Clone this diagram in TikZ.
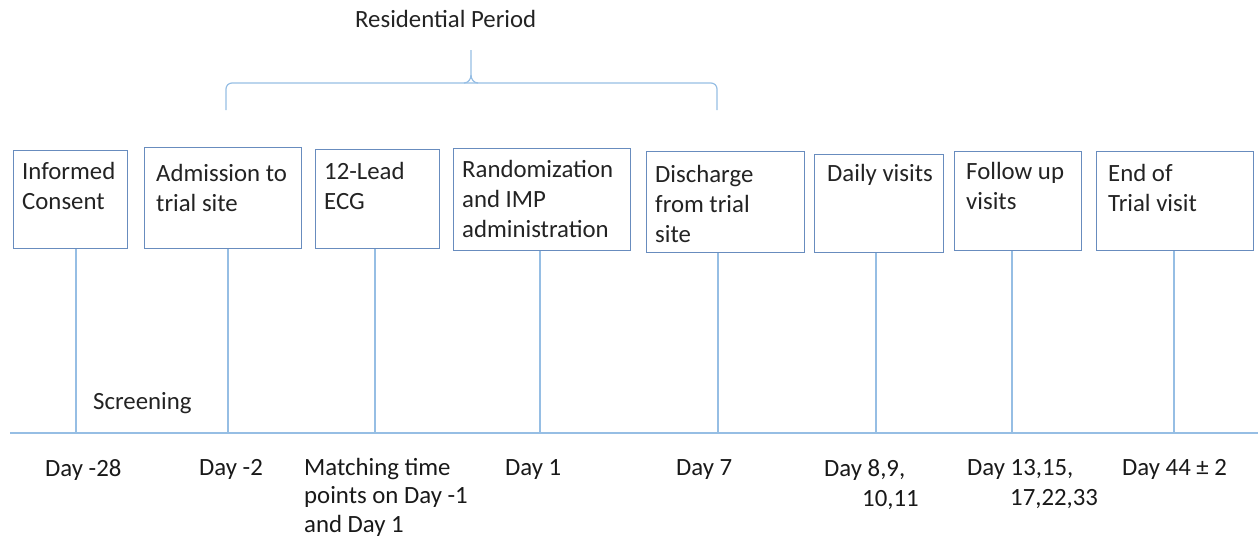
\documentclass[tikz,border=0pt]{standalone}
\usepackage{fontspec}
\setmainfont{Carlito}
\begin{document}
\begin{tikzpicture}[x=1pt,y=-1pt,
  stage/.style={draw=boxblue, line width=1.4pt, inner sep=0pt, anchor=north west},
  stagetext/.style={anchor=north west, inner sep=0pt, align=left, text=textgray,
    font=\fontsize{24.8}{30}\selectfont},
  daytext/.style={anchor=north west, inner sep=0pt, align=left, text=black!90,
    font=\fontsize{24.8}{30}\selectfont},
  tick/.style={draw=lineblue, line width=1.4pt},
]
\definecolor{boxblue}{RGB}{104,140,190}
\definecolor{lineblue}{RGB}{150,190,228}
\definecolor{textgray}{RGB}{35,35,35}
\useasboundingbox (0,0) rectangle (1258,539);

% stage boxes
\node[stage, minimum width=114pt, minimum height=98pt]  (b1) at (13,150)  {};
\node[stage, minimum width=157pt, minimum height=101pt] (b2) at (144,147) {};
\node[stage, minimum width=124pt, minimum height=99pt]  (b3) at (315,149) {};
\node[stage, minimum width=177pt, minimum height=102pt] (b4) at (453,148) {};
\node[stage, minimum width=158pt, minimum height=101pt] (b5) at (646,151) {};
\node[stage, minimum width=129pt, minimum height=98pt]  (b6) at (814,154) {};
\node[stage, minimum width=127pt, minimum height=99pt]  (b7) at (954,151) {};
\node[stage, minimum width=157pt, minimum height=99pt]  (b8) at (1096,151) {};

% box captions
\node[stagetext] (t1) at (22,162)   {Informed\\Consent};
\node[stagetext] (t2) at (156,164)  {Admission to\\trial site};
\node[stagetext] (t3) at (324,162)  {12-Lead\\ECG};
\node[stagetext] (t4) at (462,160)  {Randomization\\and IMP\\administration};
\node[stagetext] (t5) at (655,165)  {Discharge\\from trial\\site};
\node[stagetext] (t6) at (827,164)  {Daily visits};
\node[stagetext] (t7) at (966,162)  {Follow up\\visits};
\node[stagetext] (t8) at (1108,164) {End of\\Trial visit};

% time axis
\coordinate (axL) at (10,433);
\coordinate (axR) at (1258,433);
\draw[tick] (axL) -- (axR);
\coordinate (p1) at (76,433);
\coordinate (p2) at (228,433);
\coordinate (p3) at (375,433);
\coordinate (p4) at (540,433);
\coordinate (p5) at (718,433);
\coordinate (p6) at (876,433);
\coordinate (p7) at (1012,433);
\coordinate (p8) at (1174,433);
\foreach \i in {1,...,8}{\draw[tick] (p\i) -- (p\i |- b\i.south);}

\node[stagetext] (scr) at (93,392) {Screening};

% day labels
\node[daytext] (d1) at (45,459)   {Day -28};
\node[daytext] (d2) at (199,459)  {Day -2};
\node[daytext, font=\fontsize{24.8}{28.5}\selectfont] (d3) at (304,458)
  {Matching time\\points on Day -1\\and Day 1};
\node[daytext] (d4) at (505,459)  {Day 1};
\node[daytext] (d5) at (676,459)  {Day 7};
\node[daytext] (d6) at (824,459)  {Day 8,9,\\\hspace*{38pt}10,11};
\node[daytext] (d7) at (967,459)  {Day 13,15,\\\hspace*{43pt}17,22,33};
\node[daytext] (d8) at (1122,459) {Day 44 ± 2};

% residential period brace
\node[stagetext] (res) at (355,10) {Residential Period};
\coordinate (brL) at (226,110);
\coordinate (brR) at (717,110);
\coordinate (brT) at (471,50);
\draw[tick, line width=1.2pt, rounded corners=6pt]
  (brL) -- (226,83) -- (464,83) -- (brT |- 0,83)
  (brT |- 0,83) -- (478,83) -- (717,83) -- (brR);
\draw[tick, line width=1.2pt] (brT) -- (471,75) to[out=-90,in=0] (464,83);
\draw[tick, line width=1.2pt] (471,75) to[out=-90,in=180] (478,83);
\end{tikzpicture}
\end{document}
